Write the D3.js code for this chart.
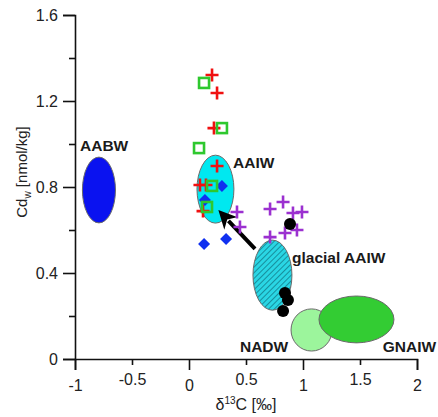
<!DOCTYPE html>
<html>
<head>
<meta charset="utf-8">
<script src="https://cdnjs.cloudflare.com/ajax/libs/d3/7.8.5/d3.min.js"></script>
<style>
  body { margin: 0; background: #fff; }
  svg { font-family: "Liberation Sans", Arial, sans-serif; }
</style>
</head>
<body>
<svg width="438" height="417"></svg>
<script>
// water mass fields: name, centre and half-widths in data units
var massNames = ["AABW", "AAIW", "glacial AAIW", "NADW", "GNAIW"];
var massCx = [-0.79, 0.232, 0.732, 1.075, 1.469];
var massCy = [0.786, 0.79, 0.39, 0.135, 0.184];
var massRx = [0.145, 0.162, 0.171, 0.18, 0.329];
var massRy = [0.153, 0.158, 0.163, 0.098, 0.109];

// samples
var redCross = [[0.202, 1.321], [0.246, 1.237], [0.219, 1.074], [0.246, 0.898],
                [0.096, 0.809], [0.149, 0.809], [0.123, 0.688]];
var greenSquare = [[0.132, 1.284], [0.289, 1.074], [0.088, 0.981], [0.202, 0.805], [0.158, 0.707]];
var blueDiamond = [[0.289, 0.805], [0.14, 0.74], [0.132, 0.535], [0.325, 0.558]];
var purpleCross = [[0.421, 0.684], [0.447, 0.614], [0.711, 0.698], [0.825, 0.73], [0.912, 0.679],
                   [0.991, 0.684], [0.947, 0.6], [0.842, 0.586], [0.711, 0.567]];
var blackDot = [[0.886, 0.628], [0.842, 0.307], [0.868, 0.274], [0.825, 0.223]];

// arrow (glacial -> modern AAIW)
var arrowFrom = [0.579, 0.512];
var arrowTo = [0.298, 0.665];

var xMajor = [-1, 0, 1, 2];
var xMinor = [-0.5, 0.5, 1.5];
var yMajor = [0, 0.4, 0.8, 1.2, 1.6];
var yMinor = [0.2, 0.6, 1.0, 1.4];

var svg = d3.select("svg");
var x = d3.scaleLinear().domain([-1, 2]).range([75, 417]);
var y = d3.scaleLinear().domain([0, 1.6]).range([359, 15]);
var plain = function(d) { return String(d); };

var defs = svg.append("defs");
var pat = defs.append("pattern")
    .attr("id", "hatch")
    .attr("patternUnits", "userSpaceOnUse")
    .attr("width", 4).attr("height", 4)
    .attr("patternTransform", "rotate(45)");
pat.append("rect").attr("width", 4).attr("height", 4).attr("fill", "#2ad6e4");
pat.append("line").attr("x1", 0).attr("y1", 0).attr("x2", 0).attr("y2", 4)
    .attr("stroke", "#127c8a").attr("stroke-width", 1.6);

defs.append("marker")
    .attr("id", "head")
    .attr("viewBox", "0 0 10 10")
    .attr("refX", 2).attr("refY", 5)
    .attr("markerWidth", 4.6).attr("markerHeight", 4.6)
    .attr("markerUnits", "strokeWidth")
    .attr("orient", "auto")
  .append("path")
    .attr("d", "M0,0 L10,5 L0,10 L3,5 Z")
    .attr("fill", "#000");

// axes
var gx = svg.append("g").attr("transform", "translate(0,359)");
gx.call(d3.axisBottom(x).tickValues(xMajor).tickSize(11).tickFormat(plain).tickPadding(10));
gx.append("g").call(d3.axisBottom(x).tickValues(xMinor).tickSize(6).tickFormat(plain).tickPadding(9));
gx.selectAll(".domain").filter(function(d, i) { return i > 0; }).remove();

var gy = svg.append("g").attr("transform", "translate(75,0)");
gy.call(d3.axisLeft(y).tickValues(yMajor).tickSize(12).tickFormat(plain).tickPadding(5));
gy.append("g").call(d3.axisLeft(y).tickValues(yMinor).tickSize(6).tickFormat(""));
gy.selectAll(".domain").filter(function(d, i) { return i > 0; }).remove();

svg.selectAll(".domain").attr("stroke", "#111").attr("stroke-width", 1.6);
svg.selectAll(".tick line").attr("stroke", "#111").attr("stroke-width", 1.6);
svg.selectAll(".tick text").attr("font-size", 16).attr("fill", "#222")
    .attr("font-family", "Liberation Sans, Arial, sans-serif");

// axis titles
var yl = svg.append("text")
    .attr("transform", "translate(27,172) rotate(-90)")
    .attr("text-anchor", "middle")
    .attr("font-size", 15).attr("fill", "#222");
yl.append("tspan").text("Cd");
yl.append("tspan").attr("font-size", 10).attr("dy", 4).text("w");
yl.append("tspan").attr("dy", -4).text(" [nmol/kg]");

var xl = svg.append("text")
    .attr("x", 246).attr("y", 410)
    .attr("text-anchor", "middle")
    .attr("font-size", 16).attr("fill", "#222");
xl.append("tspan").text("δ");
xl.append("tspan").attr("font-size", 10).attr("dy", -6).text("13");
xl.append("tspan").attr("dy", 6).text("C [‰]");

// water mass ellipses
var massFill = ["#0a12f0", "#00e8f0", "url(#hatch)", "#9cf59c", "#33cc33"];
var order = [0, 1, 2, 3, 4];
svg.append("g").selectAll("ellipse")
    .data(order)
  .enter().append("ellipse")
    .attr("cx", function(i) { return x(massCx[i]); })
    .attr("cy", function(i) { return y(massCy[i]); })
    .attr("rx", function(i) { return x(massCx[i] + massRx[i]) - x(massCx[i]); })
    .attr("ry", function(i) { return y(massCy[i]) - y(massCy[i] + massRy[i]); })
    .attr("fill", function(i) { return massFill[i]; })
    .attr("stroke", "#6a6a6a")
    .attr("stroke-width", 1);

// labels
var labelPos = [[-0.956, 0.967], [0.386, 0.888], [0.904, 0.445], [0.447, 0.033], [1.70, 0.033]];
svg.append("g").selectAll("text")
    .data(order)
  .enter().append("text")
    .attr("x", function(i) { return x(labelPos[i][0]); })
    .attr("y", function(i) { return y(labelPos[i][1]); })
    .attr("font-size", 15.5)
    .attr("font-weight", "bold")
    .attr("fill", "#1a1a1a")
    .text(function(i) { return massNames[i]; });

// arrow
svg.append("line")
    .attr("x1", x(arrowFrom[0])).attr("y1", y(arrowFrom[1]))
    .attr("x2", x(arrowTo[0]) + 5.5).attr("y2", y(arrowTo[1]) + 4.8)
    .attr("stroke", "#000").attr("stroke-width", 4)
    .attr("marker-end", "url(#head)");

// samples
function cross(g, data, color) {
  var s = 6.5;
  g.selectAll(null).data(data).enter().append("path")
    .attr("d", function(d) {
      var px = x(d[0]), py = y(d[1]);
      return "M" + (px - s) + "," + py + "H" + (px + s) + "M" + px + "," + (py - s) + "V" + (py + s);
    })
    .attr("stroke", color).attr("stroke-width", 2.6).attr("fill", "none");
}

var pts = svg.append("g");
cross(pts, purpleCross, "#9b30d0");
pts.selectAll(".dot").data(blackDot).enter().append("circle")
    .attr("cx", function(d) { return x(d[0]); })
    .attr("cy", function(d) { return y(d[1]); })
    .attr("r", 6).attr("fill", "#000");
cross(pts, redCross, "#f01010");
pts.selectAll(".dia").data(blueDiamond).enter().append("path")
    .attr("transform", function(d) { return "translate(" + x(d[0]) + "," + y(d[1]) + ")"; })
    .attr("d", "M0,-6L6,0L0,6L-6,0Z")
    .attr("fill", "#1030f0");
pts.selectAll(".sq").data(greenSquare).enter().append("rect")
    .attr("x", function(d) { return x(d[0]) - 5; })
    .attr("y", function(d) { return y(d[1]) - 5; })
    .attr("width", 10).attr("height", 10)
    .attr("fill", "none")
    .attr("stroke", "#2ec82e").attr("stroke-width", 2.6);
</script>
</body>
</html>
